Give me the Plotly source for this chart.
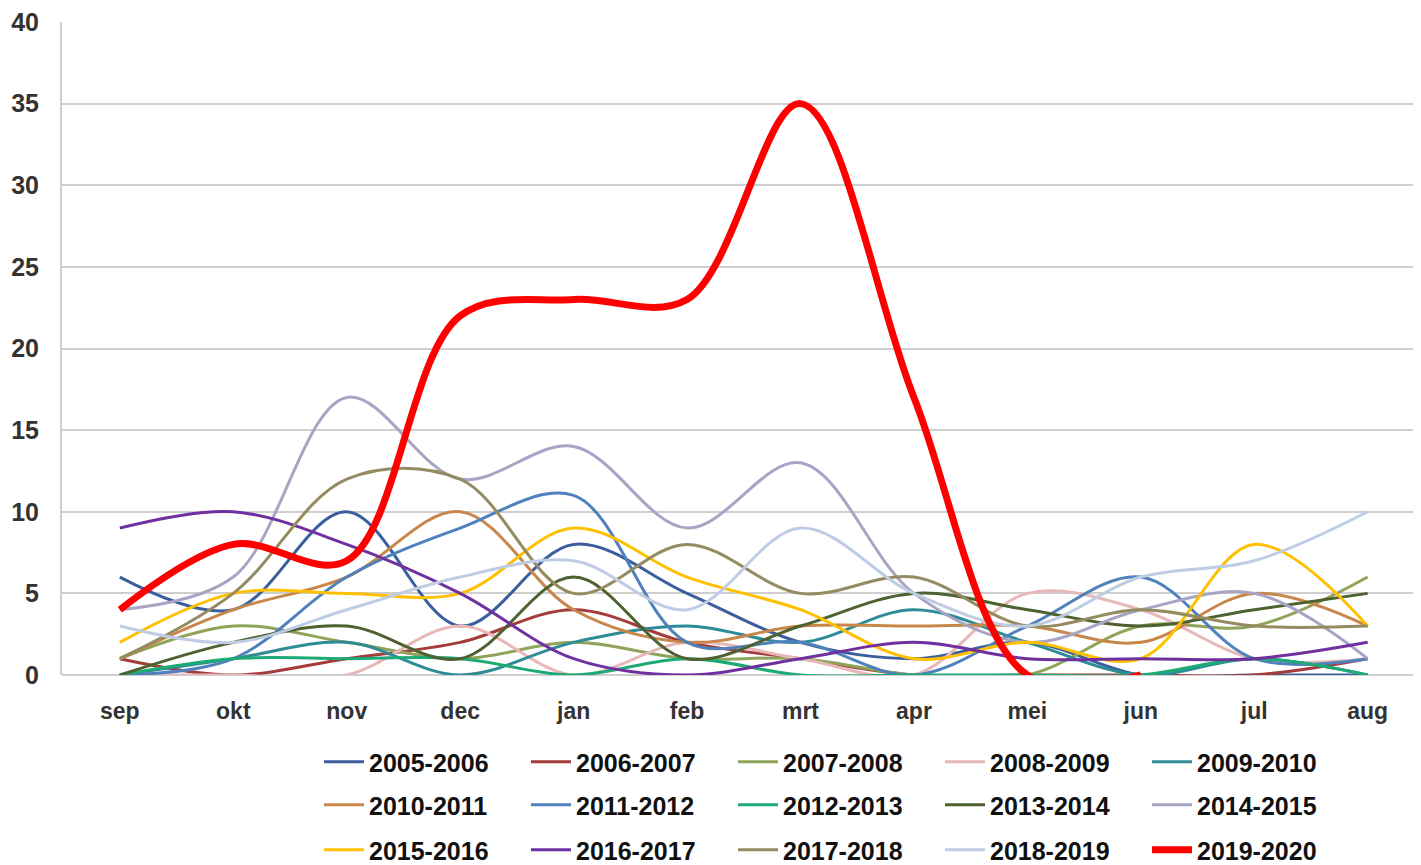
import plotly.graph_objects as go

months = ["sep", "okt", "nov", "dec", "jan", "feb", "mrt", "apr", "mei", "jun", "jul", "aug"]

s2005_2006 = [6, 4, 10, 3, 8, 5, 2, 1, 2, 0, 0, 0]
s2006_2007 = [1, 0, 1, 2, 4, 2, 1, 0, 0, 0, 0, 1]
s2007_2008 = [1, 3, 2, 1, 2, 1, 1, 0, 0, 3, 3, 6]
s2008_2009 = [0, 0, 0, 3, 0, 2, 1, 0, 5, 4, 1, 1]
s2009_2010 = [0, 1, 2, 0, 2, 3, 2, 4, 2, 0, 1, 0]
s2010_2011 = [1, 4, 6, 10, 4, 2, 3, 3, 3, 2, 5, 3]
s2011_2012 = [0, 1, 6, 9, 11, 2, 2, 0, 3, 6, 1, 1]
s2012_2013 = [0, 1, 1, 1, 0, 1, 0, 0, 0, 0, 1, 0]
s2013_2014 = [0, 2, 3, 1, 6, 1, 3, 5, 4, 3, 4, 5]
s2014_2015 = [4, 6, 17, 12, 14, 9, 13, 5, 2, 4, 5, 1]
s2015_2016 = [2, 5, 5, 5, 9, 6, 4, 1, 2, 1, 8, 3]
s2016_2017 = [9, 10, 8, 5, 1, 0, 1, 2, 1, 1, 1, 2]
s2017_2018 = [1, 5, 12, 12, 5, 8, 5, 6, 3, 4, 3, 3]
s2018_2019 = [3, 2, 4, 6, 7, 4, 9, 5, 3, 6, 7, 10]
s2019_2020 = [4, 8, 7, 22, 23, 23, 35, 17, 0, 0, None, None]

series = [
    ("2005-2006", s2005_2006, "#3B5E9C"),
    ("2006-2007", s2006_2007, "#A33C3A"),
    ("2007-2008", s2007_2008, "#8FA35A"),
    ("2008-2009", s2008_2009, "#E8B8B8"),
    ("2009-2010", s2009_2010, "#2E8C97"),
    ("2010-2011", s2010_2011, "#C8864A"),
    ("2011-2012", s2011_2012, "#4F81BD"),
    ("2012-2013", s2012_2013, "#1DAA74"),
    ("2013-2014", s2013_2014, "#4E6130"),
    ("2014-2015", s2014_2015, "#A8A4C4"),
    ("2015-2016", s2015_2016, "#FFC000"),
    ("2016-2017", s2016_2017, "#7030A0"),
    ("2017-2018", s2017_2018, "#958B60"),
    ("2018-2019", s2018_2019, "#BFCDE4"),
    ("2019-2020", s2019_2020, "#FF0000"),
]

# page has an 8px body margin; figure is sized/placed to compensate
W, H = 1413, 857
L, T, B = 54, 14, 190
plot_h = H - T - B
legend_rows_px = [754, 797, 842]

fig = go.Figure()
for i, (name, vals, color) in enumerate(series):
    row = i // 5
    fig.add_trace(go.Scatter(
        x=months, y=vals, name=name, mode="lines",
        line=dict(color=color, width=7 if name == "2019-2020" else 3,
                  shape="spline", smoothing=1.0),
        legend="legend" if row == 0 else f"legend{row + 1}",
    ))

legend_font = dict(family="Liberation Sans, Arial, sans-serif",
                   size=25, color="#111111", weight="bold")
legend_x = (311 - L) / (W - L)

def leg(ypix):
    return dict(orientation="h", x=legend_x, xanchor="left",
                y=-(ypix - (H - B)) / plot_h, yanchor="middle",
                entrywidth=152, entrywidthmode="pixels", itemwidth=40,
                font=legend_font, bgcolor="rgba(0,0,0,0)", traceorder="normal")

ytick_font = dict(family="Liberation Sans, Arial, sans-serif", size=25, color="#333333", weight="bold")
xtick_font = dict(family="Liberation Sans, Arial, sans-serif", size=23, color="#333333", weight="bold")

fig.update_layout(
    width=W, height=H,
    margin=dict(l=L, r=0, t=T, b=B, autoexpand=False),
    paper_bgcolor="white", plot_bgcolor="white",
    showlegend=True,
    legend=leg(legend_rows_px[0]),
    legend2=leg(legend_rows_px[1]),
    legend3=leg(legend_rows_px[2]),
    xaxis=dict(
        range=[-0.51, 11.47], showgrid=False, zeroline=False, automargin=False,
        showline=False, ticks="", tickfont=xtick_font, ticklabelstandoff=20,
    ),
    yaxis=dict(
        range=[0, 40], dtick=5, showgrid=True, gridcolor="#CFCFCF", gridwidth=2,
        zeroline=True, zerolinecolor="#CFCFCF", zerolinewidth=2, automargin=False,
        showline=True, linecolor="#CFCFCF", linewidth=2,
        ticks="", tickfont=ytick_font, ticklabelstandoff=16,
        ticklabeloverflow="allow",
    ),
)

fig.write_html("out.html")
